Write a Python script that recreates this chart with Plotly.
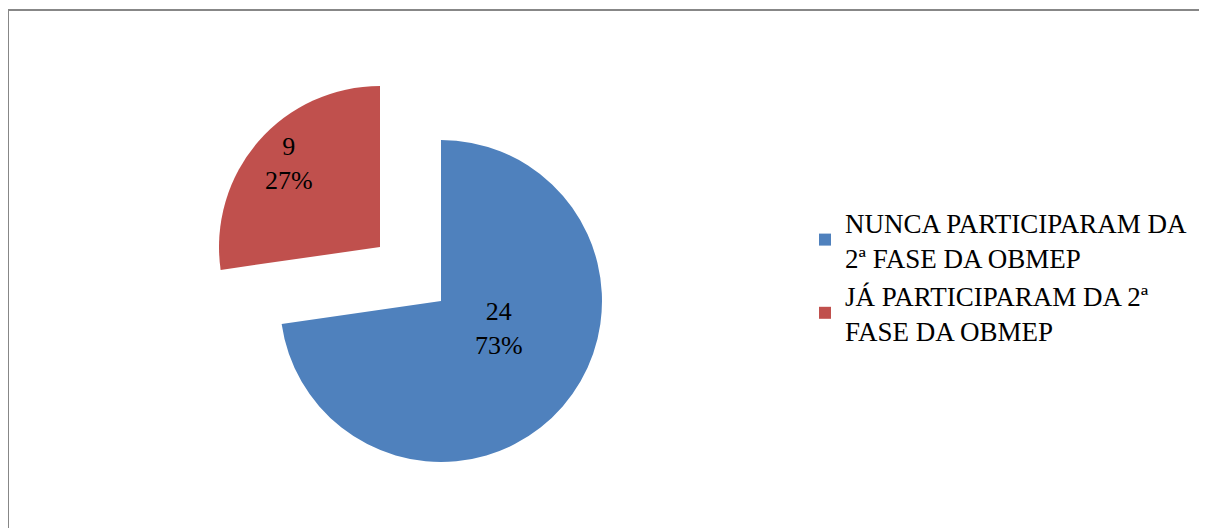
import plotly.graph_objects as go

# pie of OBMEP 2nd phase participation

labels = ["NUNCA PARTICIPARAM DA<br>2ª FASE DA OBMEP", "JÁ PARTICIPARAM DA 2ª<br>FASE DA OBMEP"]
values = [24, 9]
colors = ["#4F81BD", "#C0504D"]

# page has an 8px body margin, so the figure is drawn 8px in from the corner
W, H = 1199, 520
total = sum(values)
label_text = [f"{v}<br>{round(100 * v / total)}%" for v in values]
clear = "rgba(0,0,0,0)"
font = dict(family="Liberation Serif", size=26, color="black")

R = 161
centres = [(433, 293), (372, 239)]      # blue pie centre, red slice pulled out
label_pos = [(491, 320), (281, 155)]    # where the data labels sit


def domain_at(cx, cy, r):
    # pixel centre / radius -> paper domain
    return dict(x=[(cx - r) / W, (cx + r) / W], y=[(H - cy - r) / H, (H - cy + r) / H])


fig = go.Figure()

# legend only (tiny pie, not visible)
fig.add_trace(go.Pie(labels=labels, values=values, marker=dict(colors=colors),
                     sort=False, direction="clockwise", textinfo="none", hoverinfo="skip",
                     domain=dict(x=[0, 0.0001], y=[0, 0.0001])))

for i in range(len(values)):
    slice_colors = [c if j == i else clear for j, c in enumerate(colors)]
    fig.add_trace(go.Pie(labels=labels, values=values, marker=dict(colors=slice_colors),
                         sort=False, direction="clockwise", showlegend=False,
                         textinfo="none", domain=domain_at(*centres[i], R)))
    fig.add_annotation(x=label_pos[i][0] / W, y=1 - label_pos[i][1] / H,
                       xref="paper", yref="paper", text=label_text[i],
                       showarrow=False, font=font, xanchor="center", yanchor="middle")

fig.update_layout(
    width=W, height=H,
    margin=dict(l=0, r=0, t=0, b=0),
    paper_bgcolor="white",
    font=font,
    legend=dict(x=797 / W, y=1 - 190 / H, xanchor="left", yanchor="top",
                font=dict(family="Liberation Serif", size=27, color="black"),
                bgcolor="rgba(0,0,0,0)", itemclick=False),
    shapes=[dict(type="rect", xref="paper", yref="paper",
                 x0=0, x1=1.02, y0=-0.05, y1=1 - 2 / H,
                 line=dict(color="#878787", width=2))],
)

fig.write_html("out.html")
